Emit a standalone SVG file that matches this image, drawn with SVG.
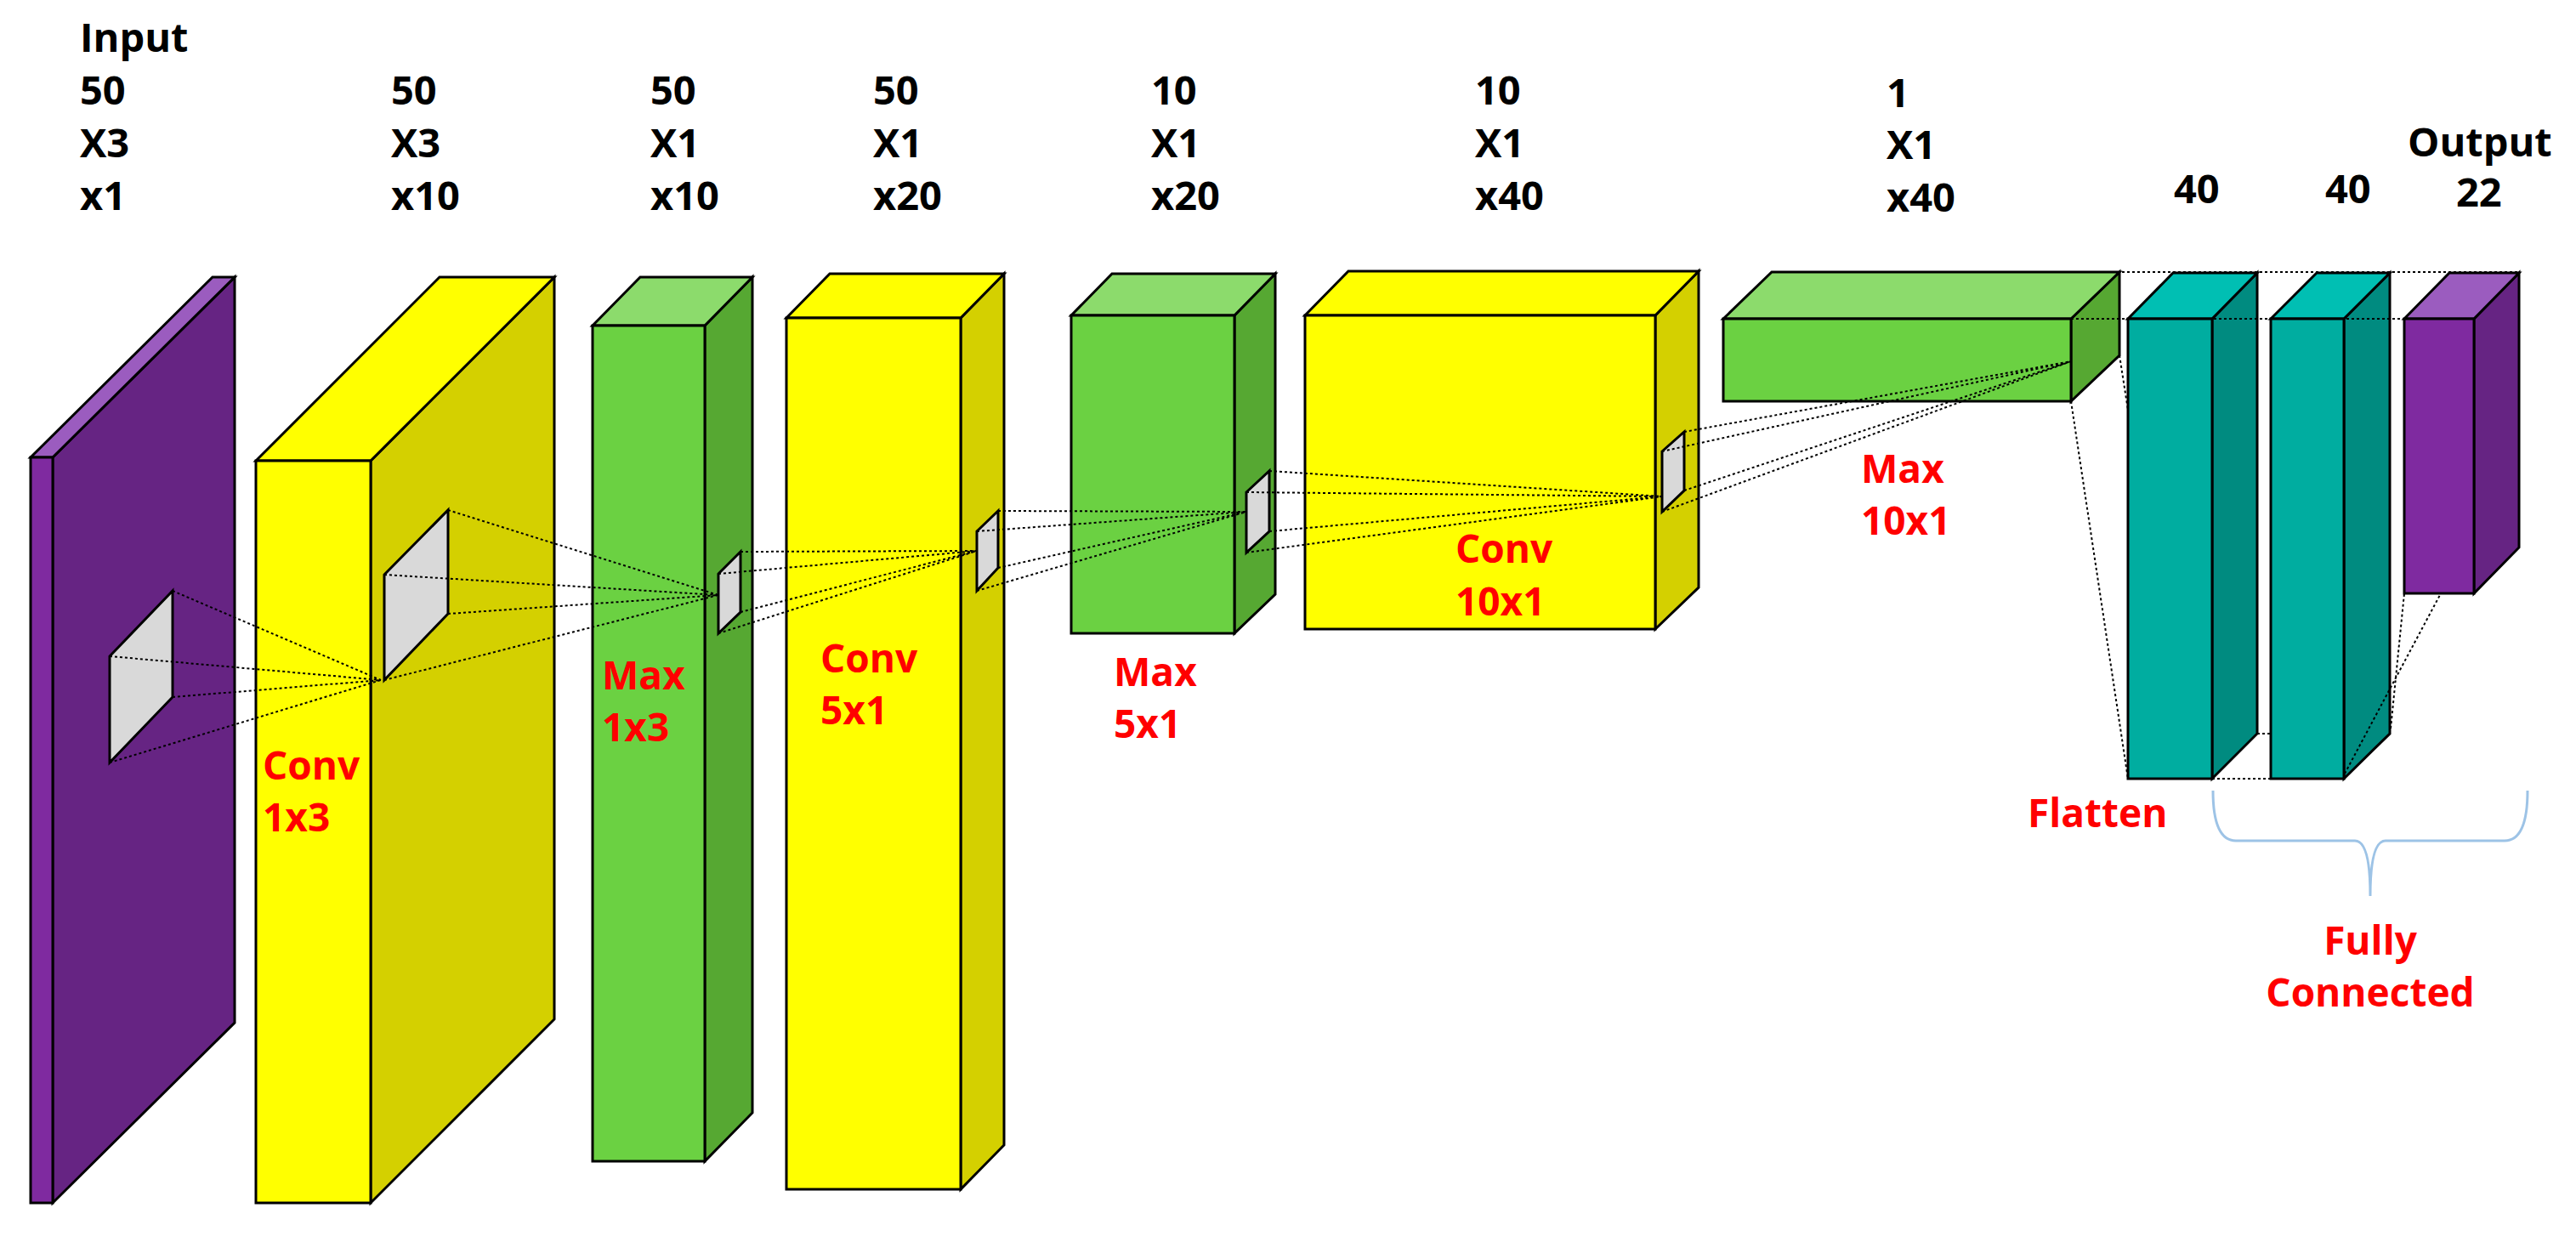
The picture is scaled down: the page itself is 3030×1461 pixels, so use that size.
<svg xmlns="http://www.w3.org/2000/svg" width="3030" height="1461" viewBox="0 0 3030 1461">
<style>
.f,.t,.s,.k{stroke:#000;stroke-width:3;stroke-linejoin:miter}
.k{fill:#d9d9d9}
.d{fill:none;stroke:#000;stroke-width:2;stroke-dasharray:3 3}
.lb{font-family:"Open Sans","Noto Sans",sans-serif;font-weight:bold;font-size:47px;fill:#000}
.rd{font-family:"Open Sans","Noto Sans",sans-serif;font-weight:bold;font-size:46px;fill:#ff0000}
.pf{fill:#7f2aa0}.ps{fill:#662483}.pt{fill:#9b5cbf}
.yf{fill:#ffff00}.ys{fill:#d4d000}
.gf{fill:#6bd142}.gs{fill:#56a832}.gt{fill:#8cdb6c}
.tf{fill:#00ada0}.ts{fill:#008b80}.tt{fill:#00bfb3}
</style>
<rect width="3030" height="1461" fill="#fff"/>
<g id="input">
<polygon class="s ps" points="62,538 276,326 276,1203 62,1415"/>
<polygon class="t pt" points="36,538 250,326 276,326 62,538"/>
<rect class="f pf" x="36" y="538" width="26" height="877"/>
<polygon class="k" points="129,772 203,695 203,820 129,897"/>
</g>
<g id="conv1">
<polygon class="s ys" points="436,542 652,326 652,1199 436,1415"/>
<polygon class="t yf" points="301,542 517,326 652,326 436,542"/>
<rect class="f yf" x="301" y="542" width="135" height="873"/>
<polygon class="k" points="452,676 527,600 527,722 452,800"/>
</g>
<g id="max1">
<polygon class="s gs" points="829,383 885,326 885,1309 829,1366"/>
<polygon class="t gt" points="697,383 753,326 885,326 829,383"/>
<rect class="f gf" x="697" y="383" width="132" height="983"/>
<polygon class="k" points="845,675 871,649 871,720 845,745"/>
</g>
<g id="conv2">
<polygon class="s ys" points="1130,374 1181,322 1181,1347 1130,1399"/>
<polygon class="t yf" points="925,374 976,322 1181,322 1130,374"/>
<rect class="f yf" x="925" y="374" width="205" height="1025"/>
<polygon class="k" points="1149,625 1174,601 1174,668 1149,695"/>
</g>
<g id="max2">
<polygon class="s gs" points="1452,371 1500,322 1500,699 1452,745"/>
<polygon class="t gt" points="1260,371 1308,322 1500,322 1452,371"/>
<rect class="f gf" x="1260" y="371" width="192" height="374"/>
<polygon class="k" points="1466,579 1493,554 1493,625 1466,650"/>
</g>
<g id="conv3">
<polygon class="s ys" points="1947,371 1998,319 1998,691 1947,740"/>
<polygon class="t yf" points="1535,371 1586,319 1998,319 1947,371"/>
<rect class="f yf" x="1535" y="371" width="412" height="369"/>
<polygon class="k" points="1955,531 1981,508 1981,577 1955,602"/>
</g>
<g id="max3">
<polygon class="s gs" points="2436,375 2493,320 2493,418 2436,472"/>
<polygon class="t gt" points="2027,375 2084,320 2493,320 2436,375"/>
<rect class="f gf" x="2027" y="375" width="409" height="97"/>
</g>
<g id="fc1">
<polygon class="s ts" points="2602,375 2655,321 2655,863 2602,916"/>
<polygon class="t tt" points="2503,375 2556,321 2655,321 2602,375"/>
<rect class="f tf" x="2503" y="375" width="99" height="541"/>
</g>
<g id="fc2">
<polygon class="s ts" points="2757,375 2811,321 2811,863 2757,916"/>
<polygon class="t tt" points="2671,375 2725,321 2811,321 2757,375"/>
<rect class="f tf" x="2671" y="375" width="86" height="541"/>
</g>
<g id="output">
<polygon class="s ps" points="2910,375 2963,321 2963,644 2910,698"/>
<polygon class="t pt" points="2828,375 2881,321 2963,321 2910,375"/>
<rect class="f pf" x="2828" y="375" width="82" height="323"/>
</g>
<g id="connectors">
<path class="d" d="M129,772L448,800M203,695L448,800M203,820L448,800M129,897L448,800"/>
<path class="d" d="M452,676L845,700M527,600L845,700M527,722L845,700M452,800L845,700"/>
<path class="d" d="M845,675L1149,648M871,649L1149,648M871,720L1149,648M845,745L1149,648"/>
<path class="d" d="M1149,625L1466,602M1174,601L1466,602M1174,668L1466,602M1149,695L1466,602"/>
<path class="d" d="M1466,579L1955,584M1493,554L1955,584M1493,625L1955,584M1466,650L1955,584"/>
<path class="d" d="M1955,531L2436,425M1981,508L2436,425M1981,577L2436,425M1955,602L2436,425"/>
<path class="d" d="M2382,320L2963,320M2436,375L2828,375M2436,472L2503,916M2493,418L2503,482"/>
<path class="d" d="M2602,916L2671,916M2655,863L2671,863M2758,910L2871,698M2812,857L2828,698"/>
<path d="M2603,930Q2603,989 2630,989L2770,989Q2788,989 2788,1054Q2788,989 2806,989L2946,989Q2973,989 2973,930" fill="none" stroke="#9dc3e6" stroke-width="3"/>
</g>
<g id="labels">
<text class="lb" x="94" y="61">Input</text>
<text class="lb" x="94" y="123">50</text><text class="lb" x="94" y="185">X3</text><text class="lb" x="94" y="247">x1</text>
<text class="lb" x="460" y="123">50</text><text class="lb" x="460" y="185">X3</text><text class="lb" x="460" y="247">x10</text>
<text class="lb" x="765" y="123">50</text><text class="lb" x="765" y="185">X1</text><text class="lb" x="765" y="247">x10</text>
<text class="lb" x="1027" y="123">50</text><text class="lb" x="1027" y="185">X1</text><text class="lb" x="1027" y="247">x20</text>
<text class="lb" x="1354" y="123">10</text><text class="lb" x="1354" y="185">X1</text><text class="lb" x="1354" y="247">x20</text>
<text class="lb" x="1735" y="123">10</text><text class="lb" x="1735" y="185">X1</text><text class="lb" x="1735" y="247">x40</text>
<text class="lb" x="2219" y="126">1</text><text class="lb" x="2219" y="187">X1</text><text class="lb" x="2219" y="249">x40</text>
<text class="lb" x="2557" y="239">40</text><text class="lb" x="2735" y="239">40</text>
<text class="lb" x="2832" y="184">Output</text><text class="lb" x="2889" y="243">22</text>
<text class="rd" x="309" y="917">Conv</text><text class="rd" x="309" y="978">1x3</text>
<text class="rd" x="708" y="811">Max</text><text class="rd" x="708" y="872">1x3</text>
<text class="rd" x="965" y="791">Conv</text><text class="rd" x="965" y="852">5x1</text>
<text class="rd" x="1310" y="807">Max</text><text class="rd" x="1310" y="868">5x1</text>
<text class="rd" x="1712" y="662">Conv</text><text class="rd" x="1712" y="724">10x1</text>
<text class="rd" x="2189" y="568">Max</text><text class="rd" x="2189" y="629">10x1</text>
<text class="rd" x="2385" y="973">Flatten</text>
<text class="rd" x="2788" y="1123" text-anchor="middle">Fully</text>
<text class="rd" x="2788" y="1184" text-anchor="middle">Connected</text>
</g>
</svg>
